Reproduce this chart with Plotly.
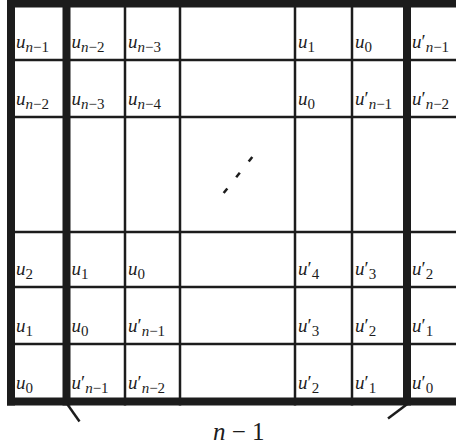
import plotly.graph_objects as go

# cell labels, row by row (top to bottom), column by column (left to right)
row_labels = [
    ["u_n-1", "u_n-2", "u_n-3", "", "u_1", "u_0", "u'_n-1"],
    ["u_n-2", "u_n-3", "u_n-4", "", "u_0", "u'_n-1", "u'_n-2"],
    ["", "", "", "", "", "", ""],
    ["u_2", "u_1", "u_0", "", "u'_4", "u'_3", "u'_2"],
    ["u_1", "u_0", "u'_n-1", "", "u'_3", "u'_2", "u'_1"],
    ["u_0", "u'_n-1", "u'_n-2", "", "u'_2", "u'_1", "u'_0"],
]
bottom_label = "<i>n</i> − 1"

# grid geometry (pixels, y grows downwards)
col_edges = [11, 66.5, 125, 180, 295, 352, 407, 470]
row_edges = [3.5, 60, 117, 232, 287, 344, 401.5]
thick_cols = [0, 1, 6]
thick_rows = [0, 6]
INK = "#1c1c1c"


def to_html(lbl):
    base, sub = lbl.split("_")
    prime = "′" if base.endswith("'") else ""
    sub = sub.replace("n-", "<i>n</i>−")
    return f"<i>u</i>{prime}<sub><span style='font-size:15px'>{sub}</span></sub>"


xs, ys, texts = [], [], []
for r, labels in enumerate(row_labels):
    top, bot = row_edges[r], row_edges[r + 1]
    for c, lbl in enumerate(labels):
        if not lbl:
            continue
        left = col_edges[c]
        xs.append(left + (5 if c in thick_cols else 3))
        ys.append(top + 0.70 * (bot - top))
        texts.append(to_html(lbl))

fig = go.Figure()
fig.add_trace(go.Scatter(
    x=xs, y=ys, text=texts, mode="text", textposition="middle right",
    textfont=dict(family="Liberation Serif", size=19, color=INK),
    hoverinfo="skip", showlegend=False,
))

shapes = []
y_top, y_bot = row_edges[0], row_edges[-1]
for i, x in enumerate(col_edges[:-1]):
    w = 8 if i in thick_cols else 2.5
    shapes.append(dict(type="line", x0=x, x1=x, y0=y_top - 4, y1=y_bot + 4,
                       line=dict(color=INK, width=w)))
for j, y in enumerate(row_edges):
    w = 8 if j in thick_rows else 2.5
    shapes.append(dict(type="line", x0=col_edges[0] - 4, x1=col_edges[-1], y0=y, y1=y,
                       line=dict(color=INK, width=w)))

# brace ticks marking the n-1 columns
shapes.append(dict(type="line", x0=col_edges[1] + 1, y0=y_bot + 3, x1=col_edges[1] + 13, y1=y_bot + 20,
                   line=dict(color=INK, width=2.5)))
shapes.append(dict(type="line", x0=col_edges[6] + 1, y0=y_bot + 2, x1=col_edges[6] - 19, y1=y_bot + 17,
                   line=dict(color=INK, width=2.5)))

# anti-diagonal dots in the middle block
cx = (col_edges[3] + col_edges[4]) / 2
cy = (row_edges[2] + row_edges[3]) / 2
for k in (-1, 0, 1):
    px, py = cx + 0.5 + k * 12.5, cy + 0.5 - k * 15.7
    shapes.append(dict(type="line", x0=px - 1.8, y0=py + 2.3, x1=px + 1.8, y1=py - 2.3,
                       line=dict(color=INK, width=2.5)))

fig.add_annotation(x=(col_edges[3] + col_edges[4]) / 2 + 1, y=431, text=bottom_label,
                   showarrow=False, xanchor="center", yanchor="middle",
                   font=dict(family="Liberation Serif", size=25, color=INK))

fig.update_layout(
    width=456, height=445,
    margin=dict(l=0, r=0, t=0, b=0),
    paper_bgcolor="white", plot_bgcolor="white",
    shapes=shapes,
    xaxis=dict(range=[0, 456], visible=False, fixedrange=True),
    yaxis=dict(range=[445, 0], visible=False, fixedrange=True),
)

fig.write_html("out.html", config={"displayModeBar": False},
               post_script="document.body.style.margin = '0px';")
